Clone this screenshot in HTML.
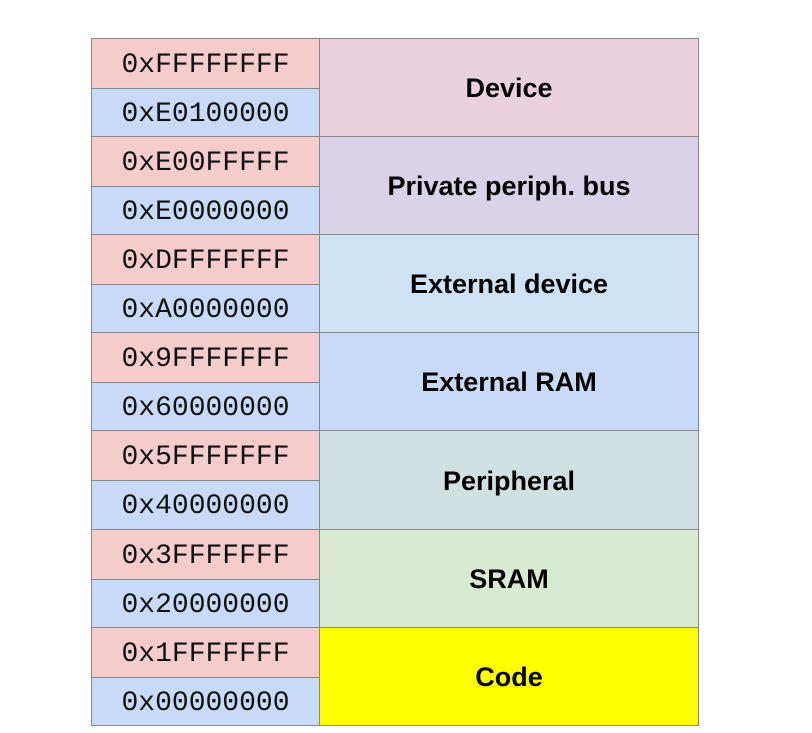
<!DOCTYPE html>
<html><head><style>
body{margin:0;width:812px;height:733px;background:#fff;position:relative;overflow:hidden}
.c{position:absolute;box-sizing:border-box;border:1px solid #888;display:flex;align-items:center;justify-content:center}
.a{font-family:"Liberation Mono",monospace;font-size:28px;color:#111;padding-top:3px}
.l{font-family:"Liberation Sans",sans-serif;font-weight:bold;font-size:27px;color:#000;padding-top:2px}
</style></head><body>
<div id="t"></div>
<script>
var rows=[["0xFFFFFFFF","0xE0100000","Device","#ead1dc"],
["0xE00FFFFF","0xE0000000","Private periph. bus","#d9d2e9"],
["0xDFFFFFFF","0xA0000000","External device","#cfe2f3"],
["0x9FFFFFFF","0x60000000","External RAM","#c9daf8"],
["0x5FFFFFFF","0x40000000","Peripheral","#d0e0e3"],
["0x3FFFFFFF","0x20000000","SRAM","#d9ead3"],
["0x1FFFFFFF","0x00000000","Code","#ffff00"]];
var h="";
for(var i=0;i<7;i++){var y=Math.round(38+i*98.1),y2=Math.round(38+(i+1)*98.1),r=rows[i];
h+='<div class="c a" style="left:91px;top:'+y+'px;width:229px;height:51px;background:#f4cccc">'+r[0]+'</div>';
h+='<div class="c a" style="left:91px;top:'+(y+50)+'px;width:229px;height:'+(y2-y-49)+'px;background:#c9daf8">'+r[1]+'</div>';
h+='<div class="c l" style="left:319px;top:'+y+'px;width:380px;height:'+(y2-y+1)+'px;background:'+r[3]+'">'+r[2]+'</div>';}
document.getElementById("t").innerHTML=h;
</script>
</body></html>
